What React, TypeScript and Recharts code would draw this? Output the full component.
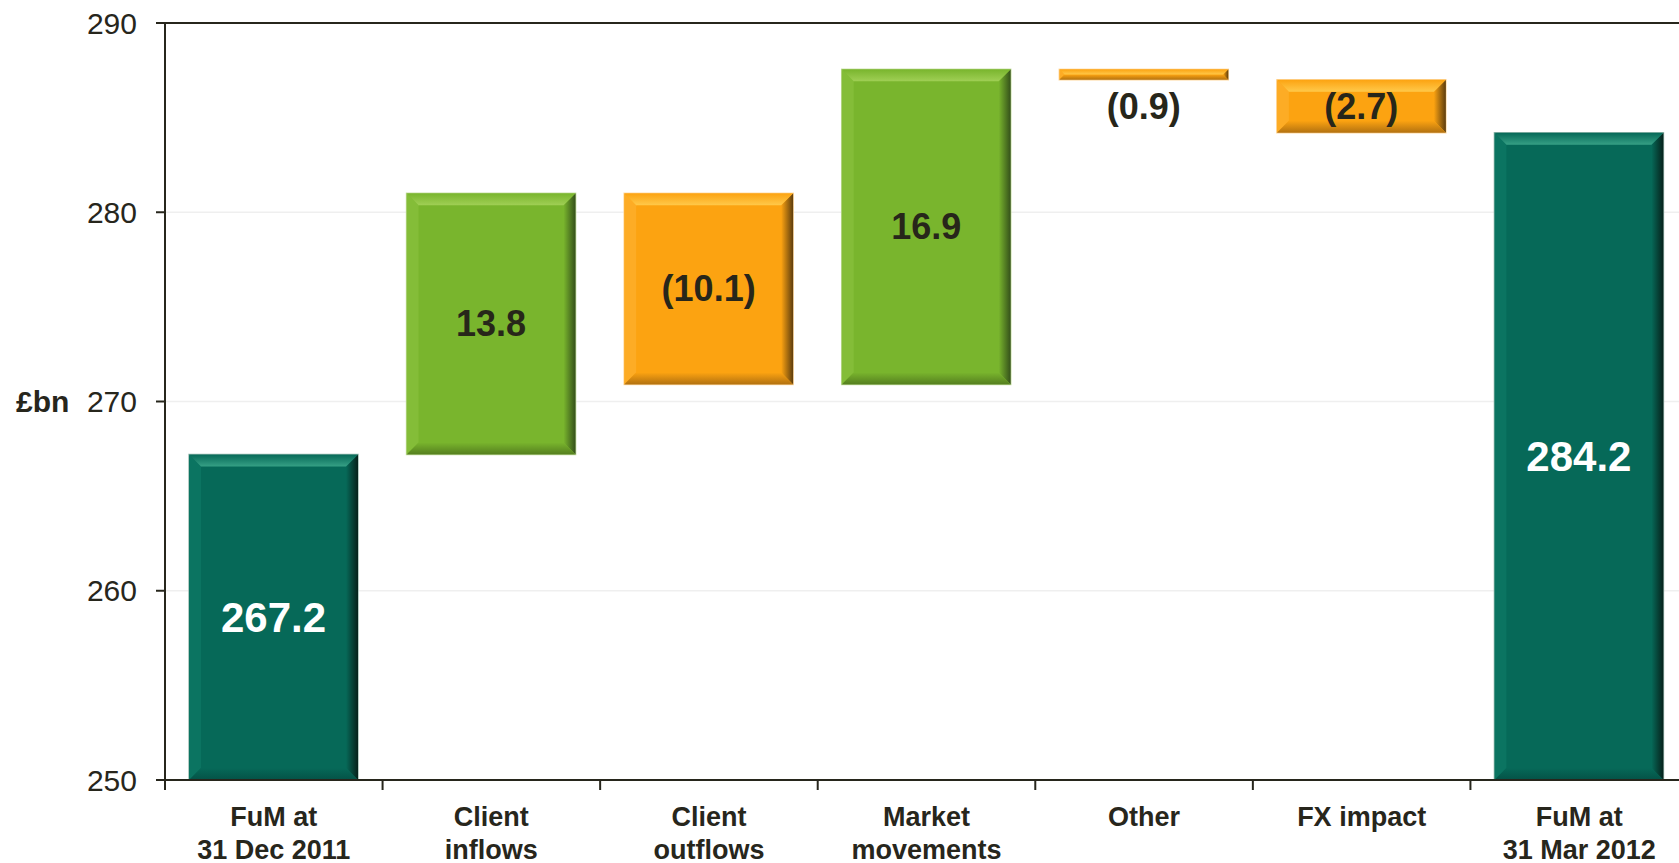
import { BarChart, Bar, XAxis, YAxis, CartesianGrid, ReferenceLine } from 'recharts';

const categories = [
  'FuM at\n31 Dec 2011',
  'Client\ninflows',
  'Client\noutflows',
  'Market\nmovements',
  'Other',
  'FX impact',
  'FuM at\n31 Mar 2012',
];
const barLow = [250, 267.2, 270.9, 270.9, 287.0, 284.2, 250];
const barHigh = [267.2, 281.0, 281.0, 287.55, 287.55, 287.0, 284.2];
const valueLabels = ['267.2', '13.8', '(10.1)', '16.9', '(0.9)', '(2.7)', '284.2'];
const barKind = ['total', 'up', 'down', 'up', 'down', 'down', 'total'];
const yTicks = [250, 260, 270, 280, 290];

const data = categories.map((name, i) => ({
  name,
  range: [barLow[i], barHigh[i]],
  label: valueLabels[i],
  kind: barKind[i],
}));

const CHART_W = 1700;
const CHART_H = 863;
const MARGIN = { top: 23, right: 12, left: 0, bottom: 0 };
const Y_AXIS_W = 165;
const BAND_W = (CHART_W - MARGIN.right - Y_AXIS_W) / categories.length;
const AXIS = '#27261c';
const FONT = '"Liberation Sans", Arial, sans-serif';

const palette: Record<string, { main: string; top: string; left: string; right: string; bottom: string; edge: string }> = {
  total: { main: '#066958', top: '#36a085', left: '#0b7461', right: '#06211b', bottom: '#045246', edge: '#9dbdb3' },
  up: { main: '#79b52d', top: '#a0cf55', left: '#84bd38', right: '#34501a', bottom: '#557f1f', edge: '#c2dc9c' },
  down: { main: '#fca311', top: '#ffc94a', left: '#fdac25', right: '#5d3d0e', bottom: '#b27110', edge: '#ffd9a0' },
};

function BevelBar(props: any) {
  const { x, y, width: w, height: h, payload } = props;
  if (w == null || h == null) return null;
  const c = palette[payload.kind];
  const b = Math.min(12, h / 2, w / 2);
  const isTotal = payload.kind === 'total';
  const small = h < 24;
  const cx = x + w / 2;
  const ly = small ? y + h + 27 : y + h / 2;
  const id = payload.kind;
  return (
    <g>
      <defs>
        <linearGradient id={`top-${id}`} x1="0" y1="0" x2="0" y2="1">
          <stop offset="0%" stopColor={c.main} />
          <stop offset="100%" stopColor={c.top} />
        </linearGradient>
        <linearGradient id={`right-${id}`} x1="0" y1="0" x2="1" y2="0">
          <stop offset="0%" stopColor={c.main} />
          <stop offset="100%" stopColor={c.right} />
        </linearGradient>
        <linearGradient id={`bottom-${id}`} x1="0" y1="0" x2="0" y2="1">
          <stop offset="0%" stopColor={c.main} />
          <stop offset="100%" stopColor={c.bottom} />
        </linearGradient>
      </defs>
      <rect x={x} y={y} width={w} height={h} fill={c.main} stroke={c.edge} strokeWidth={1.5} />
      <polygon points={`${x},${y} ${x + b},${y + b} ${x + b},${y + h - b} ${x},${y + h}`} fill={c.left} />
      <polygon points={`${x + w},${y} ${x + w - b},${y + b} ${x + w - b},${y + h - b} ${x + w},${y + h}`} fill={`url(#right-${id})`} />
      <polygon points={`${x},${y + h} ${x + b},${y + h - b} ${x + w - b},${y + h - b} ${x + w},${y + h}`} fill={`url(#bottom-${id})`} />
      <polygon points={`${x},${y} ${x + w},${y} ${x + w - b},${y + b} ${x + b},${y + b}`} fill={`url(#top-${id})`} />
      <text
        x={cx}
        y={ly}
        textAnchor="middle"
        dominantBaseline="central"
        fontFamily={FONT}
        fontWeight="bold"
        fontSize={isTotal ? 42 : 36}
        fill={isTotal ? '#ffffff' : '#27261a'}
      >
        {payload.label}
      </text>
    </g>
  );
}

function CategoryTick(props: any) {
  const { x, y, payload } = props;
  const lines = String(payload.value).split('\n');
  const bx = x - BAND_W / 2;
  return (
    <g>
      <line x1={bx} x2={bx} y1={y} y2={y + 10} stroke={AXIS} strokeWidth={2} />
      <text textAnchor="middle" fontFamily={FONT} fontWeight="bold" fontSize={27} fill={AXIS}>
        {lines.map((l, i) => (
          <tspan key={i} x={x} y={y + 46 + i * 33}>
            {l}
          </tspan>
        ))}
      </text>
    </g>
  );
}

function UnitLabel(props: any) {
  const { viewBox } = props;
  const cy = viewBox.y + viewBox.height / 2;
  return (
    <text x={16} y={cy} dominantBaseline="central" fontFamily={FONT} fontWeight="bold" fontSize={30} fill={AXIS}>
      £bn
    </text>
  );
}

export default function App() {
  return (
    <div style={{ position: 'fixed', top: 0, left: 0, width: 1679, height: 863, overflow: 'hidden', background: '#fff' }}>
      <BarChart width={CHART_W} height={CHART_H} data={data} margin={MARGIN}>
        <CartesianGrid vertical={false} stroke="#efefef" strokeWidth={1.5} />
        <XAxis
          dataKey="name"
          height={83}
          interval={0}
          tickLine={false}
          tickSize={0}
          tickMargin={0}
          axisLine={{ stroke: AXIS, strokeWidth: 2 }}
          tick={<CategoryTick />}
        />
        <YAxis
          width={Y_AXIS_W}
          domain={[250, 290]}
          ticks={yTicks}
          allowDataOverflow
          tickSize={9}
          tickMargin={19}
          axisLine={{ stroke: AXIS, strokeWidth: 2 }}
          tickLine={{ stroke: AXIS, strokeWidth: 2 }}
          tick={{ fill: AXIS, fontSize: 30, fontFamily: FONT }}
          label={<UnitLabel />}
        />
        <ReferenceLine y={290} stroke={AXIS} strokeWidth={2} />
        <Bar dataKey="range" barSize={169} shape={<BevelBar />} isAnimationActive={false} />
      </BarChart>
    </div>
  );
}
